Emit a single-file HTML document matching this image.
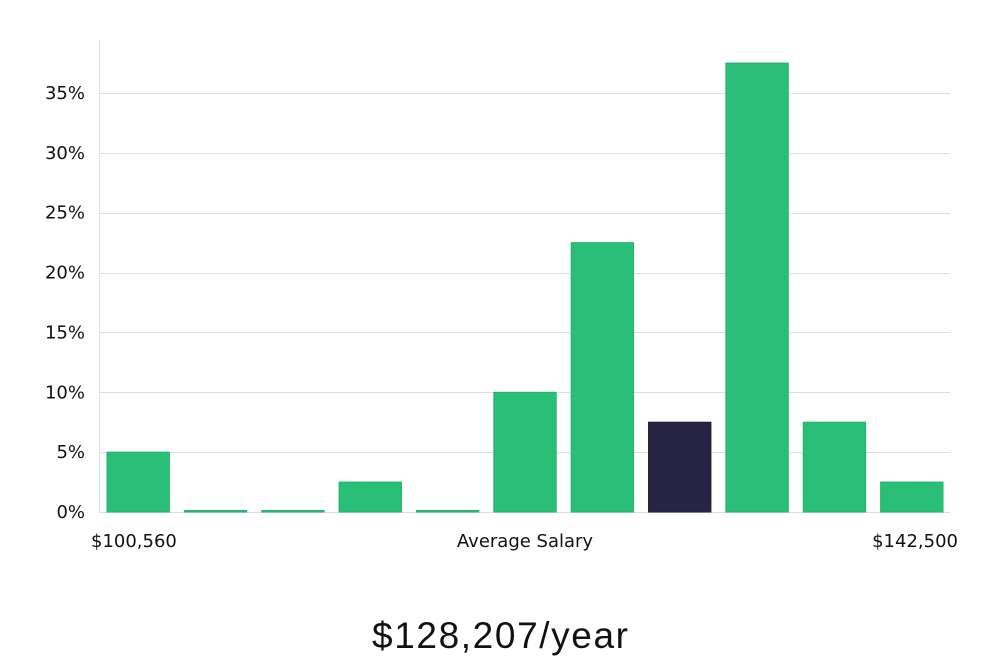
<!DOCTYPE html>
<html><head><meta charset="utf-8"><style>
html,body{margin:0;padding:0;background:#fff;}
body{width:1000px;height:660px;overflow:hidden;font-family:"DejaVu Sans","Liberation Sans",sans-serif;}
</style></head><body>
<svg id="chart" width="1000" height="660" xmlns="http://www.w3.org/2000/svg">
<g id="grid"></g>
<line x1="99.5" y1="40" x2="99.5" y2="512" stroke="#e0e0e0" stroke-width="1"/>
<g id="yticks"></g>
<g id="bars"></g>
<text x="91" y="547" font-size="18" fill="#111">$100,560</text>
<text x="525" y="547" font-size="18" fill="#111" text-anchor="middle">Average Salary</text>
<text x="958" y="547" font-size="18" fill="#111" text-anchor="end">$142,500</text>
<text x="500" y="648" font-size="37" fill="#111" text-anchor="middle" font-family="Liberation Sans, sans-serif" font-weight="300" textLength="256">$128,207/year</text>
</svg>
<script>
const values=[5,0,0,2.5,0,10,22.5,7.5,37.5,7.5,2.5];
const highlight=[false,false,false,false,false,false,false,true,false,false,false];
const yTicks=[0,5,10,15,20,25,30,35];
const yTickLabels=["0%","5%","10%","15%","20%","25%","30%","35%"];
const NS="http://www.w3.org/2000/svg";
const x0=99,x1=950,yBase=512,yPer=(512-93)/35;
const y=v=>yBase-v*yPer;
const band=(x1-x0)/values.length;
const grid=document.getElementById('grid'),yt=document.getElementById('yticks'),bars=document.getElementById('bars');
yTicks.forEach((t,i)=>{
  const l=document.createElementNS(NS,'line');
  
  
  l.setAttribute('x1',x0);l.setAttribute('x2',x1);
  l.setAttribute('y1',Math.round(y(t))+0.5);l.setAttribute('y2',Math.round(y(t))+0.5);
  l.setAttribute('stroke','#dedede');
  grid.appendChild(l);
  const tx=document.createElementNS(NS,'text');
  
  
  tx.setAttribute('x',85);tx.setAttribute('y',y(t)+6);
  tx.setAttribute('text-anchor','end');tx.setAttribute('font-size','18');tx.setAttribute('fill','#111');
  tx.textContent=yTickLabels[i];
  yt.appendChild(tx);
});
values.forEach((v,i)=>{
  const r=document.createElementNS(NS,'rect');
  
  
  const h=Math.max(1.5,v*yPer);
  r.setAttribute('x',x0+i*band+8);
  r.setAttribute('width',band-15);
  r.setAttribute('y',yBase-h);
  r.setAttribute('height',h);
  r.setAttribute('fill',highlight[i]?'#272343':'#29bf77');
  r.setAttribute('stroke',highlight[i]?'#1f1b38':'#22b36c');
  r.setAttribute('stroke-width','1');
  bars.appendChild(r);
});
</script>
</body></html>
